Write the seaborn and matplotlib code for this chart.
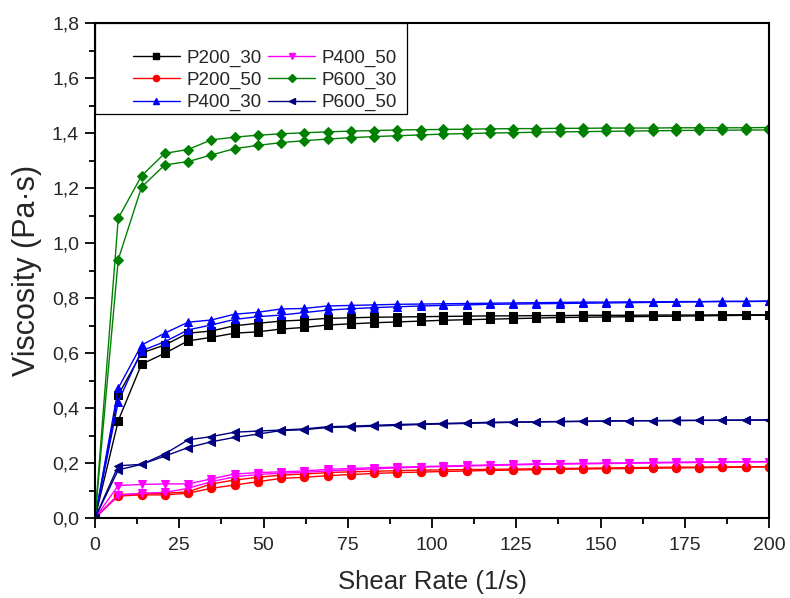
import numpy as np
import pandas as pd
import matplotlib
matplotlib.use("Agg")
import matplotlib.pyplot as plt
from matplotlib.lines import Line2D
from matplotlib.patches import Rectangle
from matplotlib.ticker import MultipleLocator, FuncFormatter
import seaborn as sns

# Shear rate steps (1/s)
shear_rate = [0, 6.9, 13.8, 20.7, 27.6, 34.5, 41.4, 48.3, 55.2, 62.1,
              69.0, 75.9, 82.8, 89.7, 96.6, 103.4, 110.3, 117.2, 124.1, 131.0,
              137.9, 144.8, 151.7, 158.6, 165.5, 172.4, 179.3, 186.2, 193.1, 200]

# Viscosity (Pa·s), two sweeps per sample
p200_30_a = [0, 0.354, 0.559, 0.599, 0.644, 0.657, 0.672, 0.677, 0.687, 0.693,
             0.702, 0.706, 0.710, 0.713, 0.716, 0.719, 0.721, 0.723, 0.725, 0.727,
             0.729, 0.730, 0.731, 0.732, 0.733, 0.734, 0.735, 0.736, 0.737, 0.737]
p200_30_b = [0, 0.447, 0.600, 0.629, 0.672, 0.680, 0.699, 0.708, 0.716, 0.720,
             0.726, 0.728, 0.730, 0.731, 0.732, 0.733, 0.734, 0.735, 0.735, 0.736,
             0.736, 0.737, 0.737, 0.737, 0.738, 0.738, 0.738, 0.739, 0.739, 0.739]

p200_50_a = [0, 0.080, 0.084, 0.084, 0.090, 0.108, 0.120, 0.132, 0.144, 0.148,
             0.154, 0.158, 0.162, 0.165, 0.167, 0.169, 0.171, 0.173, 0.174, 0.176,
             0.177, 0.178, 0.179, 0.180, 0.181, 0.182, 0.183, 0.184, 0.185, 0.186]
p200_50_b = [0, 0.085, 0.088, 0.090, 0.095, 0.124, 0.138, 0.148, 0.156, 0.160,
             0.165, 0.168, 0.170, 0.172, 0.174, 0.175, 0.176, 0.177, 0.178, 0.179,
             0.180, 0.181, 0.182, 0.183, 0.184, 0.185, 0.185, 0.186, 0.186, 0.187]

p400_30_a = [0, 0.423, 0.608, 0.641, 0.684, 0.702, 0.722, 0.732, 0.738, 0.747,
             0.756, 0.761, 0.765, 0.768, 0.771, 0.773, 0.775, 0.777, 0.778, 0.779,
             0.780, 0.781, 0.782, 0.783, 0.784, 0.785, 0.786, 0.787, 0.787, 0.788]
p400_30_b = [0, 0.472, 0.629, 0.672, 0.712, 0.720, 0.741, 0.748, 0.760, 0.762,
             0.771, 0.773, 0.775, 0.777, 0.778, 0.779, 0.780, 0.781, 0.782, 0.783,
             0.784, 0.785, 0.785, 0.786, 0.786, 0.787, 0.787, 0.788, 0.788, 0.789]

p400_50_a = [0, 0.083, 0.090, 0.093, 0.108, 0.132, 0.150, 0.158, 0.163, 0.166,
             0.171, 0.175, 0.179, 0.182, 0.185, 0.187, 0.189, 0.191, 0.193, 0.195,
             0.196, 0.197, 0.198, 0.199, 0.200, 0.201, 0.202, 0.203, 0.204, 0.204]
p400_50_b = [0, 0.118, 0.122, 0.124, 0.124, 0.142, 0.160, 0.165, 0.168, 0.171,
             0.177, 0.180, 0.183, 0.185, 0.187, 0.189, 0.191, 0.193, 0.195, 0.197,
             0.198, 0.199, 0.200, 0.201, 0.202, 0.203, 0.204, 0.204, 0.205, 0.205]

p600_30_a = [0, 0.940, 1.203, 1.284, 1.296, 1.320, 1.343, 1.355, 1.365, 1.372,
             1.378, 1.383, 1.387, 1.390, 1.393, 1.396, 1.398, 1.400, 1.401, 1.403,
             1.404, 1.405, 1.406, 1.407, 1.408, 1.409, 1.410, 1.410, 1.411, 1.411]
p600_30_b = [0, 1.090, 1.244, 1.326, 1.340, 1.375, 1.385, 1.392, 1.397, 1.401,
             1.404, 1.407, 1.409, 1.411, 1.412, 1.413, 1.414, 1.415, 1.416, 1.416,
             1.417, 1.417, 1.418, 1.418, 1.418, 1.419, 1.419, 1.419, 1.419, 1.420]

p600_50_a = [0, 0.175, 0.195, 0.225, 0.256, 0.277, 0.293, 0.305, 0.318, 0.321,
             0.329, 0.331, 0.334, 0.337, 0.340, 0.342, 0.344, 0.346, 0.348, 0.349,
             0.350, 0.351, 0.352, 0.353, 0.354, 0.354, 0.355, 0.355, 0.356, 0.356]
p600_50_b = [0, 0.190, 0.195, 0.233, 0.284, 0.296, 0.312, 0.316, 0.320, 0.324,
             0.332, 0.334, 0.337, 0.340, 0.342, 0.344, 0.346, 0.348, 0.349, 0.350,
             0.351, 0.352, 0.353, 0.354, 0.354, 0.355, 0.355, 0.356, 0.356, 0.357]

samples = ["P200_30", "P200_50", "P400_30", "P400_50", "P600_30", "P600_50"]
sweeps = {
    "P200_30": (p200_30_a, p200_30_b),
    "P200_50": (p200_50_a, p200_50_b),
    "P400_30": (p400_30_a, p400_30_b),
    "P400_50": (p400_50_a, p400_50_b),
    "P600_30": (p600_30_a, p600_30_b),
    "P600_50": (p600_50_a, p600_50_b),
}
colors = {"P200_30": "#000000", "P200_50": "#FF0000", "P400_30": "#0000FF",
          "P400_50": "#FF00FF", "P600_30": "#008000", "P600_50": "#000080"}
markers = {"P200_30": "s", "P200_50": "o", "P400_30": "^",
           "P400_50": "v", "P600_30": "D", "P600_50": "<"}

rows = []
for s in samples:
    for k, vals in enumerate(sweeps[s]):
        for x, y in zip(shear_rate, vals):
            rows.append({"sample": s, "sweep": k, "rate": x, "visc": y})
df = pd.DataFrame(rows)

sns.set_theme(style="white")
plt.rcParams["font.family"] = ["Liberation Sans", "DejaVu Sans"]

fig = plt.figure(figsize=(7.9, 5.98), dpi=100)
ax = fig.add_axes([95 / 790, 1 - 518 / 598, 674 / 790, 495 / 598])

for s in samples:
    sub = df[df["sample"] == s]
    ms = 5.5 if markers[s] == "D" else 6
    sns.lineplot(data=sub, x="rate", y="visc", units="sweep", estimator=None,
                 color=colors[s], marker=markers[s], markersize=ms,
                 markeredgecolor=colors[s], linewidth=1.0, ax=ax, legend=False)

ax.set_xlim(0, 200)
ax.set_ylim(0, 1.8)
ax.xaxis.set_major_locator(MultipleLocator(25))
ax.xaxis.set_minor_locator(MultipleLocator(12.5))
ax.yaxis.set_major_locator(MultipleLocator(0.2))
ax.yaxis.set_minor_locator(MultipleLocator(0.1))
ax.yaxis.set_major_formatter(FuncFormatter(lambda v, p: f"{v:.1f}".replace(".", ",")))
ax.xaxis.set_major_formatter(FuncFormatter(lambda v, p: f"{v:.0f}"))

for sp in ax.spines.values():
    sp.set_color("black")
    sp.set_linewidth(1.5)

ax.tick_params(which="both", direction="out", bottom=True, left=True,
               top=False, right=False, color="black", width=1.3)
ax.tick_params(which="major", length=7.5, labelsize=14)
ax.tick_params(axis="x", which="major", pad=6)
ax.tick_params(axis="y", which="major", pad=4)
ax.tick_params(which="minor", length=4)

ax.set_xlabel("Shear Rate (1/s)", fontsize=18.5, labelpad=12)
ax.set_ylabel("Viscosity (Pa·s)", fontsize=22, labelpad=7)

# legend frame and entries
ax.add_patch(Rectangle((0.0, 0.816), 0.463, 0.184, transform=ax.transAxes,
                       facecolor="white", edgecolor="black", linewidth=0.9,
                       zorder=5))
handles = [Line2D([], [], color=colors[s], marker=markers[s], markersize=4.5,
                  linewidth=1.0, markeredgecolor=colors[s]) for s in samples]
leg = ax.legend(handles, samples, ncol=2, loc="center left",
                bbox_to_anchor=(0.056, 0.884), frameon=False, fontsize=13.5,
                borderpad=0, borderaxespad=0, handlelength=2.5,
                handletextpad=0.35, columnspacing=0.35, labelspacing=0.27)
leg.set_zorder(6)

fig.savefig("out.png", dpi=100)
